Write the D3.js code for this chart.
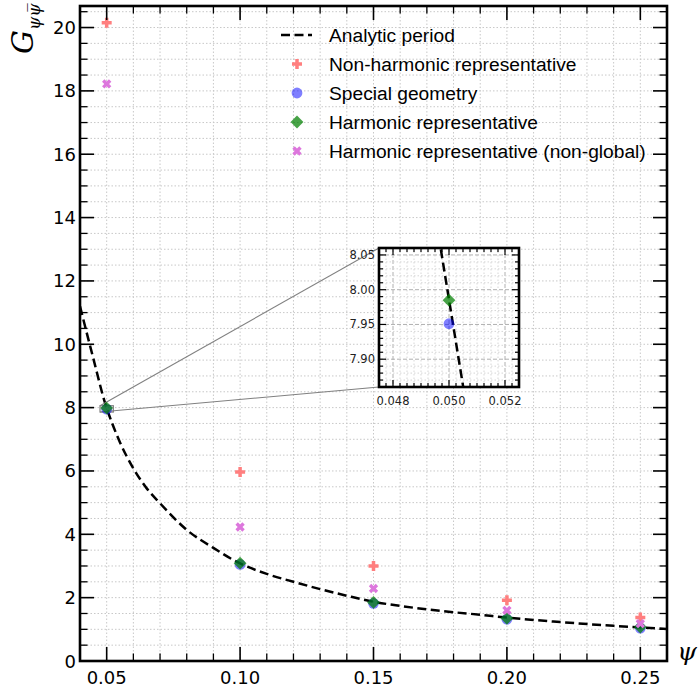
<!DOCTYPE html>
<html><head><meta charset="utf-8">
<script src="https://cdn.jsdelivr.net/npm/d3@7"></script>
<style>body{margin:0;background:#fff}svg{display:block}</style>
</head><body><svg id="c" width="698" height="694"></svg>
<script>
// ---------------- data ----------------
const psiValues = [0.05, 0.10, 0.15, 0.20, 0.25];
const nonHarmonic = [20.15, 5.97, 3.00, 1.92, 1.37];
const specialGeometry = [7.951, 3.05, 1.82, 1.32, 1.04];
const harmonic = [7.985, 3.09, 1.85, 1.35, 1.07];
const harmonicNonGlobal = [18.22, 4.23, 2.29, 1.60, 1.18];

const analyticPsi = [0.040, 0.045, 0.0497, 0.0505, 0.055, 0.060, 0.065, 0.07, 0.08, 0.09, 0.10, 0.11, 0.12, 0.13, 0.14, 0.15, 0.16, 0.17, 0.18, 0.19, 0.20, 0.22, 0.24, 0.26];
const analyticG   = [11.2, 9.55, 8.06, 7.862, 6.9, 6.08, 5.45, 4.98, 4.14, 3.57, 3.08, 2.75, 2.50, 2.27, 2.06, 1.87, 1.74, 1.63, 1.54, 1.46, 1.37, 1.23, 1.11, 1.01];

const xMajorTicks = [0.05, 0.10, 0.15, 0.20, 0.25];
const xTickLabels = ["0.05", "0.10", "0.15", "0.20", "0.25"];
const yMajorTicks = [0, 2, 4, 6, 8, 10, 12, 14, 16, 18, 20];
const insetXTicks = [0.048, 0.050, 0.052];
const insetXLabels = ["0.048", "0.050", "0.052"];
const insetYTicks = [7.90, 7.95, 8.00, 8.05];
const insetYLabels = ["7.90", "7.95", "8.00", "8.05"];
const legendLabels = ["Analytic period", "Non-harmonic representative", "Special geometry", "Harmonic representative", "Harmonic representative (non-global)"];

// ---------------- setup ----------------
const svg = d3.select("#c");
const L = 80, R = 667, T = 6, B = 661;
const x = d3.scaleLinear().domain([0.04, 0.26]).range([L, R]);
const y = d3.scaleLinear().domain([0, 20.68]).range([B, T]);
const ix = d3.scaleLinear().domain([0.0475, 0.0525]).range([379, 519]);
const iy = d3.scaleLinear().domain([7.86, 8.06]).range([387, 248]);

const series = [
  {name: legendLabels[1], vals: nonHarmonic, shape: "plus", fill: "#ff7f7f", op: 1},
  {name: legendLabels[2], vals: specialGeometry, shape: "circle", fill: "#0000ff", op: 0.5},
  {name: legendLabels[3], vals: harmonic, shape: "diamond", fill: "#008000", op: 0.72},
  {name: legendLabels[4], vals: harmonicNonGlobal, shape: "x", fill: "#dd77dd", op: 1}
];

function plusPts(a, b) {
  return [[-b,-a],[b,-a],[b,-b],[a,-b],[a,b],[b,b],[b,a],[-b,a],[-b,b],[-a,b],[-a,-b],[-b,-b]];
}
function shapePath(shape) {
  let pts;
  if (shape === "plus") pts = plusPts(5, 1.75);
  else if (shape === "x") {
    const c = Math.SQRT1_2;
    pts = plusPts(4.9, 1.7).map(([px, py]) => [c*(px - py), c*(px + py)]);
  } else if (shape === "diamond") pts = [[0,-6.4],[6.4,0],[0,6.4],[-6.4,0]];
  else { return d3.arc()({innerRadius:0, outerRadius:5.4, startAngle:0, endAngle:2*Math.PI}); }
  return "M" + pts.map(p => p.join(",")).join("L") + "Z";
}

const defs = svg.append("defs");
defs.append("clipPath").attr("id", "mainClip").append("rect").attr("x", L).attr("y", T).attr("width", R - L).attr("height", B - T);
defs.append("clipPath").attr("id", "insetClip").append("rect").attr("x", 379).attr("y", 248).attr("width", 140).attr("height", 139);

// ---------------- main grid ----------------
const gridColor = "#c8c8c8";
const xMinor = d3.range(4, 27).map(v => v / 100);
const yMinor = d3.range(0, 42).map(v => v / 2);
const grid = svg.append("g");
grid.selectAll(".gx").data(xMinor).join("line")
  .attr("x1", d => x(d)).attr("x2", d => x(d)).attr("y1", T).attr("y2", B)
  .attr("stroke", gridColor).attr("stroke-width", 1).attr("stroke-dasharray", "1.5,2");
grid.selectAll(".gy").data(yMinor.filter(v => v <= 20.68)).join("line")
  .attr("x1", L).attr("x2", R).attr("y1", d => y(d)).attr("y2", d => y(d))
  .attr("stroke", gridColor).attr("stroke-width", 1).attr("stroke-dasharray", "1.5,2");

// ---------------- analytic curve ----------------
const curveData = analyticPsi.map((p, i) => [p, analyticG[i]]);
const line = d3.line().x(d => x(d[0])).y(d => y(d[1])).curve(d3.curveMonotoneX);
svg.append("path").attr("clip-path", "url(#mainClip)").datum(curveData)
  .attr("d", line).attr("fill", "none").attr("stroke", "#000")
  .attr("stroke-width", 2.5).attr("stroke-dasharray", "9,4.5");

// ---------------- inset indicator ----------------
const rx0 = ix.domain()[0], rx1 = ix.domain()[1], ry0 = iy.domain()[0], ry1 = iy.domain()[1];
svg.append("rect").attr("x", x(rx0)).attr("y", y(ry1)).attr("width", x(rx1) - x(rx0)).attr("height", y(ry0) - y(ry1))
  .attr("fill", "none").attr("stroke", "#808080").attr("stroke-width", 1.2);
svg.append("line").attr("x1", x(rx0)).attr("y1", y(ry1)).attr("x2", ix.range()[0]).attr("y2", iy.range()[1])
  .attr("stroke", "#808080").attr("stroke-width", 1.1);
svg.append("line").attr("x1", x(rx0)).attr("y1", y(ry0)).attr("x2", ix.range()[0]).attr("y2", iy.range()[0])
  .attr("stroke", "#808080").attr("stroke-width", 1.1);

// ---------------- markers ----------------
function drawMarkers(g, xs, ys, filterFn) {
  series.forEach(s => {
    const pts = psiValues.map((p, i) => [p, s.vals[i]]).filter(filterFn);
    g.selectAll(null).data(pts).join("path")
      .attr("d", shapePath(s.shape))
      .attr("transform", d => `translate(${xs(d[0])},${ys(d[1])})`)
      .attr("fill", s.fill).attr("fill-opacity", s.op);
  });
}
drawMarkers(svg.append("g").attr("clip-path", "url(#mainClip)"), x, y, () => true);

// ---------------- main axes ----------------
const ax = svg.append("g").attr("stroke", "#000");
const xMinorOnly = xMinor.filter(v => !xMajorTicks.some(m => Math.abs(m - v) < 1e-9));
const yMinorOnly = yMinor.filter(v => v % 2 !== 0 && v <= 20.68);
function ticksX(vals, len, w) {
  ax.selectAll(null).data(vals).join("line").attr("x1", d => x(d)).attr("x2", d => x(d)).attr("y1", B).attr("y2", B - len).attr("stroke-width", w);
  ax.selectAll(null).data(vals).join("line").attr("x1", d => x(d)).attr("x2", d => x(d)).attr("y1", T).attr("y2", T + len).attr("stroke-width", w);
}
function ticksY(vals, len, w) {
  ax.selectAll(null).data(vals).join("line").attr("y1", d => y(d)).attr("y2", d => y(d)).attr("x1", L).attr("x2", L + len).attr("stroke-width", w);
  ax.selectAll(null).data(vals).join("line").attr("y1", d => y(d)).attr("y2", d => y(d)).attr("x1", R).attr("x2", R - len).attr("stroke-width", w);
}
ticksX(xMajorTicks, 14, 1.6); ticksX(xMinorOnly, 7.5, 1.3);
ticksY(yMajorTicks, 14, 1.6); ticksY(yMinorOnly, 7.5, 1.3);
svg.append("rect").attr("x", L).attr("y", T).attr("width", R - L).attr("height", B - T)
  .attr("fill", "none").attr("stroke", "#000").attr("stroke-width", 2.6);

const tickFont = "DejaVu Sans, sans-serif";
svg.selectAll(".xl").data(xMajorTicks).join("text")
  .attr("x", d => x(d)).attr("y", 684).attr("text-anchor", "middle")
  .attr("font-family", tickFont).attr("font-size", 18).text((d, i) => xTickLabels[i]);
svg.selectAll(".yl").data(yMajorTicks).join("text")
  .attr("x", 76).attr("y", d => y(d) + 6.5).attr("text-anchor", "end")
  .attr("font-family", tickFont).attr("font-size", 18).text(d => d);

// axis labels
svg.append("text").attr("x", 687).attr("y", 660).attr("text-anchor", "middle")
  .attr("font-family", "DejaVu Serif, serif").attr("font-style", "italic").attr("font-size", 25).text("ψ");
const yl = svg.append("text").attr("transform", "translate(33,54) rotate(-90)")
  .attr("font-family", "DejaVu Serif, serif").attr("font-style", "italic");
yl.append("tspan").attr("font-size", 30).text("G");
yl.append("tspan").attr("font-size", 17).attr("dy", 7).text("ψψ\u0305");

// ---------------- legend ----------------
const legY = [35, 64, 93, 122, 151];
const lg = svg.append("g");
lg.append("line").attr("x1", 281).attr("x2", 312).attr("y1", legY[0]).attr("y2", legY[0])
  .attr("stroke", "#000").attr("stroke-width", 2.5).attr("stroke-dasharray", "9,4.5");
series.forEach((s, i) => {
  lg.append("path").attr("d", shapePath(s.shape)).attr("transform", `translate(297,${legY[i + 1]})`)
    .attr("fill", s.fill).attr("fill-opacity", s.op);
});
lg.selectAll("text").data(legendLabels).join("text")
  .attr("x", 329).attr("y", (d, i) => legY[i] + 7)
  .attr("font-family", "Liberation Sans, sans-serif").attr("font-size", 19.2).text(d => d);

// ---------------- inset ----------------
const ins = svg.append("g");
ins.append("rect").attr("x", 379).attr("y", 248).attr("width", 140).attr("height", 139).attr("fill", "#fff");
const ixMinor = d3.range(190, 211).map(v => v / 4000);
const iyMinor = d3.range(786, 807).map(v => v / 100);
const ixMajorIdx = new Set(insetXTicks.map(v => Math.round(v * 4000)));
const iyMajorIdx = new Set(insetYTicks.map(v => Math.round(v * 100)));
ins.selectAll(null).data(ixMinor).join("line")
  .attr("x1", d => ix(d)).attr("x2", d => ix(d)).attr("y1", 248).attr("y2", 387)
  .attr("stroke", d => ixMajorIdx.has(Math.round(d * 4000)) ? "#b0b0b0" : "#d6d6d6")
  .attr("stroke-width", 1).attr("stroke-dasharray", d => ixMajorIdx.has(Math.round(d * 4000)) ? "4,2" : "1.5,2");
ins.selectAll(null).data(iyMinor).join("line")
  .attr("y1", d => iy(d)).attr("y2", d => iy(d)).attr("x1", 379).attr("x2", 519)
  .attr("stroke", d => iyMajorIdx.has(Math.round(d * 100)) ? "#b0b0b0" : "#d6d6d6")
  .attr("stroke-width", 1).attr("stroke-dasharray", d => iyMajorIdx.has(Math.round(d * 100)) ? "4,2" : "1.5,2");
ins.append("path").attr("clip-path", "url(#insetClip)").datum(curveData)
  .attr("d", d3.line().x(d => ix(d[0])).y(d => iy(d[1]))).attr("fill", "none")
  .attr("stroke", "#000").attr("stroke-width", 2.5).attr("stroke-dasharray", "9,4.5");
drawMarkers(ins.append("g").attr("clip-path", "url(#insetClip)"), ix, iy, d => d[0] === 0.05);
// inset ticks
const it = ins.append("g").attr("stroke", "#000");
ixMinor.forEach(v => {
  const maj = ixMajorIdx.has(Math.round(v * 4000));
  const len = maj ? 7 : 4;
  it.append("line").attr("x1", ix(v)).attr("x2", ix(v)).attr("y1", 387).attr("y2", 387 - len).attr("stroke-width", 1.2);
  it.append("line").attr("x1", ix(v)).attr("x2", ix(v)).attr("y1", 248).attr("y2", 248 + len).attr("stroke-width", 1.2);
});
iyMinor.forEach(v => {
  const maj = iyMajorIdx.has(Math.round(v * 100));
  const len = maj ? 7 : 4;
  it.append("line").attr("y1", iy(v)).attr("y2", iy(v)).attr("x1", 379).attr("x2", 379 + len).attr("stroke-width", 1.2);
  it.append("line").attr("y1", iy(v)).attr("y2", iy(v)).attr("x1", 519).attr("x2", 519 - len).attr("stroke-width", 1.2);
});
ins.append("rect").attr("x", 379).attr("y", 248).attr("width", 140).attr("height", 139)
  .attr("fill", "none").attr("stroke", "#000").attr("stroke-width", 2.6);
ins.selectAll(".ixl").data(insetXTicks).join("text")
  .attr("x", d => ix(d)).attr("y", 405).attr("text-anchor", "middle")
  .attr("font-family", tickFont).attr("font-size", 11.5).attr("fill", "#222").text((d, i) => insetXLabels[i]);
ins.selectAll(".iyl").data(insetYTicks).join("text")
  .attr("x", 375).attr("y", d => iy(d) + 4).attr("text-anchor", "end")
  .attr("font-family", tickFont).attr("font-size", 11.5).attr("fill", "#222").text((d, i) => insetYLabels[i]);
</script></body></html>
